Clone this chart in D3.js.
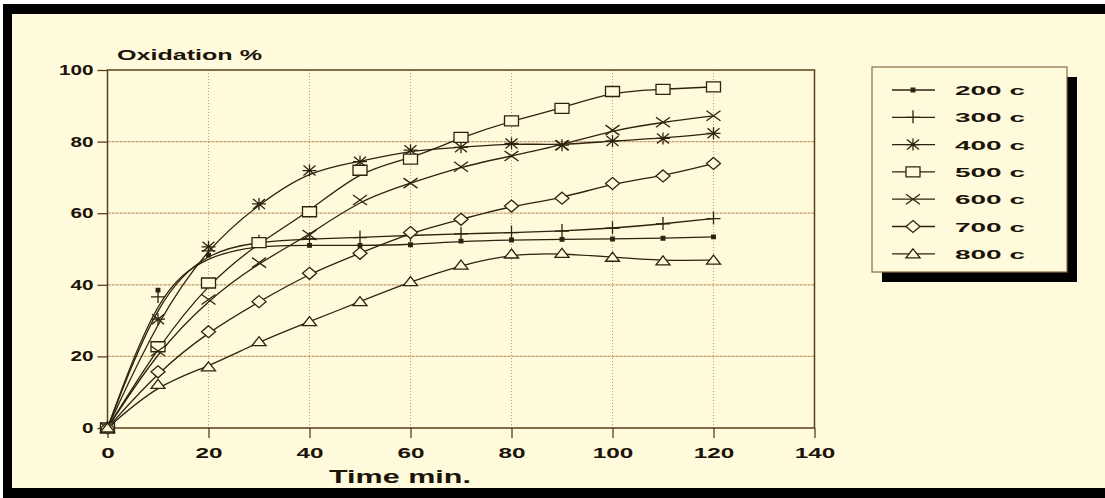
<!DOCTYPE html>
<meta charset="utf-8">
<script src="https://d3js.org/d3.v7.min.js"></script>
<style>
  body { margin: 0; background: #fff; }
  text { font-family: "Liberation Sans", Arial, sans-serif; font-weight: bold; fill: #1c140a; }
</style>
<div id="my_dataviz"></div>
<script>
    // chart data
    var times = [0, 10, 20, 30, 40, 50, 60, 70, 80, 90, 100, 110, 120];
    var seriesNames = ["200 c", "300 c", "400 c", "500 c", "600 c", "700 c", "800 c"];
    var s200 = [0, 38.5, 48.3, 51, 51, 51, 51.2, 52.2, 52.5, 52.7, 52.8, 53, 53.4];
    var s300 = [0, 36.6, 49.5, 52, 52.8, 53.2, 53.8, 54.2, 54.6, 55, 55.8, 57, 58.5];
    var s400 = [0, 30.4, 50.6, 62.6, 71.9, 74.4, 77.6, 78.4, 79.5, 79, 80.2, 80.9, 82.3];
    var s500 = [0, 22.7, 40.5, 51.8, 60.4, 72, 75.1, 81.2, 85.8, 89.3, 94, 94.6, 95.3];
    var s600 = [0, 21.5, 35.9, 46.2, 53.9, 63.7, 68.4, 73, 76, 79, 83.2, 85.4, 87.2];
    var s700 = [0, 15.7, 26.9, 35.3, 43.2, 48.8, 54.6, 58.3, 62, 64.2, 68.3, 70.4, 73.9];
    var s800 = [0, 12.2, 17.1, 24.1, 29.7, 35.3, 40.9, 45.5, 48.6, 48.8, 47.7, 46.7, 46.9];
    var markers = ["dot", "plus", "star", "square", "cross", "diamond", "triangle"];
    var xTicks = [0, 20, 40, 60, 80, 100, 120, 140];
    var yTicks = [0, 20, 40, 60, 80, 100];

    var allSeries = [s200, s300, s400, s500, s600, s700, s800];

    var cream = "#fffadb",
        ink = "#2e2210",
        gridColor = "#c39a6a";

    var svg = d3.select("#my_dataviz")
        .append("svg")
        .attr("width", 1105)
        .attr("height", 498);

    // frame
    svg.append("rect").attr("x", 3).attr("y", 4).attr("width", 1102).attr("height", 494).attr("fill", "#000");
    svg.append("rect").attr("x", 12).attr("y", 14).attr("width", 1093).attr("height", 474).attr("fill", cream);

    var x = d3.scaleLinear().domain([0, 140]).range([107.5, 814.5]);
    var y = d3.scaleLinear().domain([0, 100]).range([428, 70]);

    // grid
    svg.append("g").selectAll("line")
        .data(xTicks.filter(function(d) { return d > 0 && d < 140; }))
        .enter().append("line")
        .attr("x1", function(d) { return x(d); })
        .attr("x2", function(d) { return x(d); })
        .attr("y1", y(0)).attr("y2", y(100))
        .attr("stroke", gridColor).attr("stroke-width", 1)
        .attr("stroke-dasharray", "1,2");
    svg.append("g").selectAll("line")
        .data(yTicks.filter(function(d) { return d > 0 && d < 100; }))
        .enter().append("line")
        .attr("x1", x(0)).attr("x2", x(140))
        .attr("y1", function(d) { return y(d); })
        .attr("y2", function(d) { return y(d); })
        .attr("stroke", gridColor).attr("stroke-width", 1.2)
        .attr("stroke-dasharray", "3,1");

    // plot border
    svg.append("rect")
        .attr("x", x(0)).attr("y", y(100))
        .attr("width", x(140) - x(0)).attr("height", y(0) - y(100))
        .attr("fill", "none").attr("stroke", "#5a3f1c").attr("stroke-width", 1.5);

    // axes
    var xAxis = svg.append("g")
        .attr("transform", "translate(0," + y(0) + ")")
        .call(d3.axisBottom(x).tickValues(xTicks).tickSize(10).tickSizeOuter(0).tickPadding(10));
    xAxis.select(".domain").remove();
    xAxis.selectAll("line").attr("stroke", "#5a3f1c").attr("stroke-width", 1.3);
    xAxis.selectAll("text")
        .attr("font-size", 14)
        .attr("textLength", function(d) { return String(d).length * 13.5; })
        .attr("lengthAdjust", "spacingAndGlyphs");

    var yAxis = svg.append("g")
        .attr("transform", "translate(" + x(0) + ",0)")
        .call(d3.axisLeft(y).tickValues(yTicks).tickSize(10).tickSizeOuter(0).tickPadding(4));
    yAxis.select(".domain").remove();
    yAxis.selectAll("line").attr("stroke", "#5a3f1c").attr("stroke-width", 1.3);
    yAxis.selectAll("text")
        .attr("font-size", 14)
        .attr("textLength", function(d) { return String(d).length * 11.5; })
        .attr("lengthAdjust", "spacingAndGlyphs");

    svg.append("text")
        .attr("x", 117).attr("y", 60)
        .attr("font-size", 15)
        .attr("textLength", 145).attr("lengthAdjust", "spacingAndGlyphs")
        .text("Oxidation %");
    svg.append("text")
        .attr("x", 400).attr("y", 483)
        .attr("text-anchor", "middle")
        .attr("font-size", 18)
        .attr("textLength", 142).attr("lengthAdjust", "spacingAndGlyphs")
        .text("Time min.");

    // marker shapes
    function markerPath(type) {
        switch (type) {
            case "dot": return "M-1.8,-1.8H1.8V1.8H-1.8Z";
            case "plus": return "M-7,0H7M0,-7V6";
            case "star": return "M-7,0H7M0,-6V6M-6,-5L6,5M-6,5L6,-5";
            case "square": return "M-7,-5H7V5H-7Z";
            case "cross": return "M-7,-5L7,5M-7,5L7,-5";
            case "diamond": return "M0,-6L7,0L0,6L-7,0Z";
            case "triangle": return "M0,-5L7,4H-7Z";
        }
    }
    function markerFill(type) {
        if (type == "dot") return ink;
        if (type == "square" || type == "diamond" || type == "triangle") return cream;
        return "none";
    }

    var line = d3.line()
        .x(function(d, i) { return x(times[i]); })
        .y(function(d) { return y(d); })
        .curve(d3.curveBasis);

    allSeries.forEach(function(vals, k) {
        svg.append("path")
            .attr("d", line(vals))
            .attr("fill", "none")
            .attr("stroke", ink)
            .attr("stroke-width", 1.3);
    });
    allSeries.forEach(function(vals, k) {
        svg.append("g").selectAll("path")
            .data(vals)
            .enter().append("path")
            .attr("transform", function(d, i) { return "translate(" + x(times[i]) + "," + y(d) + ")"; })
            .attr("d", markerPath(markers[k]))
            .attr("fill", markerFill(markers[k]))
            .attr("stroke", ink)
            .attr("stroke-width", 1.3);
    });

    // legend
    var lg = svg.append("g");
    lg.append("rect").attr("x", 882).attr("y", 77).attr("width", 195).attr("height", 205).attr("fill", "#000");
    lg.append("rect").attr("x", 872).attr("y", 67).attr("width", 195).attr("height", 205)
        .attr("fill", cream).attr("stroke", "#8b6a3a").attr("stroke-width", 1.2);
    seriesNames.forEach(function(name, k) {
        var ly = 90 + k * 27.3;
        lg.append("line").attr("x1", 892).attr("x2", 935).attr("y1", ly).attr("y2", ly)
            .attr("stroke", ink).attr("stroke-width", 1.3);
        lg.append("path")
            .attr("transform", "translate(913," + ly + ")")
            .attr("d", markerPath(markers[k]))
            .attr("fill", markerFill(markers[k]))
            .attr("stroke", ink).attr("stroke-width", 1.3);
        lg.append("text")
            .attr("x", 955).attr("y", ly + 5)
            .attr("font-size", 13)
            .attr("textLength", 70).attr("lengthAdjust", "spacingAndGlyphs")
            .text(name);
    });
</script>
